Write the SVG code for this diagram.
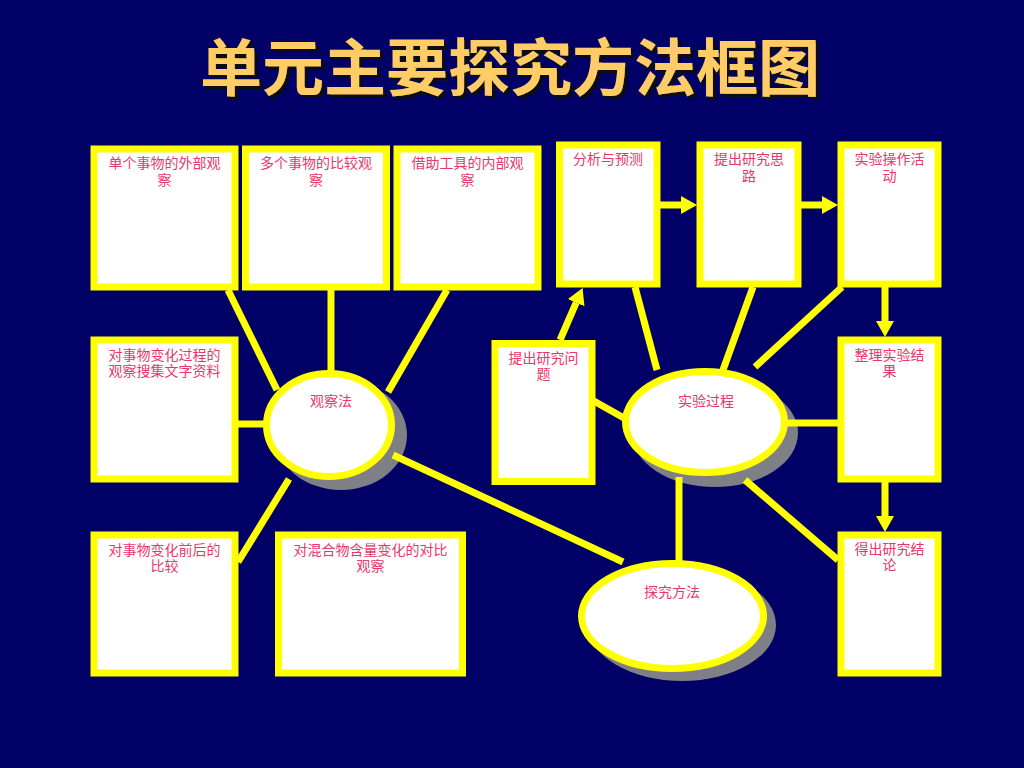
<svg xmlns="http://www.w3.org/2000/svg" width="1024" height="768" viewBox="0 0 1024 768">
<defs>
<style>
.box{fill:#FFFFFF;stroke:#FFFF00;stroke-width:7}
.oval{fill:#FFFFFF;stroke:#FFFF00;stroke-width:7}
.shadow{fill:#7F7F86}
.con{stroke:#FFFF00;stroke-width:7;fill:none}
.lbl{font-family:"Liberation Serif","Noto Sans CJK SC",serif;font-size:14px;fill:#E8386A;text-anchor:middle}
.title{font-family:"Liberation Sans","Noto Sans CJK SC",sans-serif;font-size:62px;font-weight:bold;text-anchor:middle;fill:#FFCC66}
</style>
<filter id="tsh" x="-5%" y="-20%" width="110%" height="140%">
<feDropShadow dx="3" dy="3" stdDeviation="0.6" flood-color="#111111" flood-opacity="1"/>
</filter>
<marker id="ah" markerUnits="userSpaceOnUse" viewBox="0 0 16 18" markerWidth="16" markerHeight="18" refX="0" refY="9" orient="auto">
<path d="M0,0 L16,9 L0,18 Z" fill="#FFFF00"/>
</marker>
</defs>
<rect x="0" y="0" width="1024" height="768" fill="#000066"/>
<g id="title">
<text class="title" x="510" y="91" filter="url(#tsh)">单元主要探究方法框图</text>
</g>
<g id="shadows">
<ellipse class="shadow" cx="341" cy="435" rx="66" ry="55"/>
<ellipse class="shadow" cx="715" cy="433" rx="83" ry="54"/>
<ellipse class="shadow" cx="682" cy="625" rx="94" ry="56"/>
</g>
<g id="connectors">
<line class="con" x1="228" y1="290" x2="277" y2="390"/>
<line class="con" x1="331" y1="290" x2="331" y2="372"/>
<line class="con" x1="447" y1="290" x2="388" y2="392"/>
<line class="con" x1="237" y1="424" x2="266" y2="424"/>
<line class="con" x1="289" y1="479" x2="238" y2="562"/>
<line class="con" x1="393" y1="455" x2="623" y2="562"/>
<line class="con" x1="660" y1="205" x2="681" y2="205" marker-end="url(#ah)"/>
<line class="con" x1="801" y1="205" x2="822" y2="205" marker-end="url(#ah)"/>
<line class="con" x1="560" y1="340" x2="576.2" y2="302.7" marker-end="url(#ah)"/>
<line class="con" x1="885" y1="287" x2="885" y2="321" marker-end="url(#ah)"/>
<line class="con" x1="885" y1="482" x2="885" y2="516" marker-end="url(#ah)"/>
<line class="con" x1="635" y1="287" x2="657" y2="370"/>
<line class="con" x1="753" y1="287" x2="723" y2="370"/>
<line class="con" x1="842" y1="287" x2="755" y2="367"/>
<line class="con" x1="592" y1="400" x2="624" y2="418"/>
<line class="con" x1="786" y1="423" x2="838" y2="423"/>
<line class="con" x1="679" y1="477" x2="679" y2="561"/>
<line class="con" x1="745" y1="480" x2="838" y2="560"/>
</g>
<g id="n-outer-single">
<rect class="box" x="94" y="149" width="141" height="138"/>
<text class="lbl" x="164.5" y="168">单个事物的外部观<tspan x="164.5" dy="17">察</tspan></text>
</g>
<g id="n-compare-multi">
<rect class="box" x="245.5" y="149" width="141" height="138"/>
<text class="lbl" x="316" y="168">多个事物的比较观<tspan x="316" dy="17">察</tspan></text>
</g>
<g id="n-inner-tools">
<rect class="box" x="397" y="149" width="141" height="138"/>
<text class="lbl" x="467.5" y="168">借助工具的内部观<tspan x="467.5" dy="17">察</tspan></text>
</g>
<g id="n-analyze">
<rect class="box" x="559.5" y="145" width="97.5" height="139"/>
<text class="lbl" x="608" y="164">分析与预测</text>
</g>
<g id="n-idea">
<rect class="box" x="700" y="145" width="98" height="139"/>
<text class="lbl" x="749" y="164">提出研究思<tspan x="749" dy="17">路</tspan></text>
</g>
<g id="n-operate">
<rect class="box" x="841" y="145" width="97" height="139"/>
<text class="lbl" x="889.5" y="164">实验操作活<tspan x="889.5" dy="17">动</tspan></text>
</g>
<g id="n-process-text">
<rect class="box" x="94" y="340" width="141" height="139"/>
<text class="lbl" x="164.5" y="360">对事物变化过程的<tspan x="164.5" dy="16">观察搜集文字资料</tspan></text>
</g>
<g id="n-question">
<rect class="box" x="495" y="343.5" width="97" height="138"/>
<text class="lbl" x="543.5" y="363">提出研究问<tspan x="543.5" dy="16">题</tspan></text>
</g>
<g id="n-organize">
<rect class="box" x="841" y="340" width="97" height="139"/>
<text class="lbl" x="889.5" y="360">整理实验结<tspan x="889.5" dy="16">果</tspan></text>
</g>
<g id="n-before-after">
<rect class="box" x="94" y="535" width="141" height="138"/>
<text class="lbl" x="164.5" y="555">对事物变化前后的<tspan x="164.5" dy="16">比较</tspan></text>
</g>
<g id="n-mixture">
<rect class="box" x="278.5" y="535" width="184" height="138"/>
<text class="lbl" x="370.5" y="555">对混合物含量变化的对比<tspan x="370.5" dy="16">观察</tspan></text>
</g>
<g id="n-conclude">
<rect class="box" x="841" y="535" width="97" height="138"/>
<text class="lbl" x="889.5" y="554">得出研究结<tspan x="889.5" dy="16">论</tspan></text>
</g>
<g id="n-observe">
<ellipse class="oval" cx="329" cy="425" rx="62.5" ry="51.5"/>
<text class="lbl" x="331" y="406">观察法</text>
</g>
<g id="n-experiment">
<ellipse class="oval" cx="705" cy="422" rx="79.5" ry="50.5"/>
<text class="lbl" x="706" y="406">实验过程</text>
</g>
<g id="n-methods">
<ellipse class="oval" cx="672.5" cy="616" rx="91" ry="52.5"/>
<text class="lbl" x="672" y="597">探究方法</text>
</g>
</svg>
